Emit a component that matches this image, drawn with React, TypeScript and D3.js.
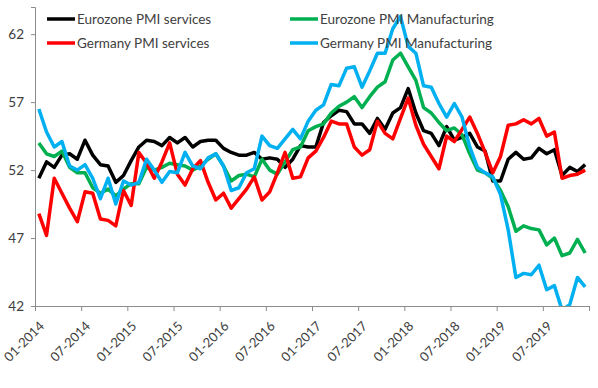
import { useEffect, useRef } from "react";
import * as d3 from "d3";

// monthly readings, Jan 2014 .. Dec 2019
const months = d3.timeMonth.range(new Date(2014, 0, 1), new Date(2020, 0, 1));

const ezServices = [
  51.4, 52.6, 52.2, 53.1, 53.2, 52.8, 54.2, 53.1, 52.4, 52.3, 51.1, 51.6,
  52.7, 53.7, 54.2, 54.1, 53.8, 54.4, 54.0, 54.4, 53.7, 54.1, 54.2, 54.2,
  53.6, 53.3, 53.1, 53.1, 53.3, 52.8, 52.9, 52.8, 52.2, 52.8, 53.8, 53.7,
  53.7, 55.5, 56.0, 56.4, 56.3, 55.4, 55.4, 54.7, 55.8, 55.0, 56.2, 56.6,
  58.0, 56.2, 54.9, 54.7, 53.8, 55.2, 54.2, 54.4, 54.7, 53.7, 53.4, 51.2,
  51.2, 52.8, 53.3, 52.8, 52.9, 53.6, 53.2, 53.5, 51.6, 52.2, 51.9, 52.4,
];

const ezManufacturing = [
  54.0, 53.2, 53.0, 53.4, 52.2, 51.8, 51.8, 50.7, 50.3, 50.6, 50.1, 50.6,
  51.0, 51.0, 52.2, 52.0, 52.2, 52.5, 52.4, 52.3, 52.0, 52.3, 52.8, 53.2,
  52.3, 51.2, 51.6, 51.7, 51.5, 52.8, 52.0, 51.7, 52.6, 53.5, 53.7, 54.9,
  55.2, 55.4, 56.2, 56.7, 57.0, 57.4, 56.6, 57.4, 58.1, 58.5, 60.1, 60.6,
  59.6, 58.6, 56.6, 56.2, 55.5, 54.9, 55.1, 54.6, 53.2, 52.0, 51.8, 51.4,
  50.5, 49.3, 47.5, 47.9, 47.7, 47.6, 46.5, 47.0, 45.7, 45.9, 46.9, 45.9,
];

const deServices = [
  48.8, 47.2, 51.4, 50.3, 49.2, 48.2, 50.4, 50.3, 48.4, 48.3, 47.9, 50.5,
  49.4, 53.3, 52.5, 51.4, 52.6, 54.0, 51.7, 50.9, 52.1, 52.7, 51.1, 49.8,
  50.3, 49.2, 49.9, 50.6, 51.5, 49.8, 50.4, 51.8, 53.3, 51.4, 51.5, 52.9,
  53.4, 54.4, 55.6, 55.4, 55.4, 53.7, 53.1, 53.5, 55.6, 54.7, 54.3, 55.8,
  57.3, 55.3, 53.9, 53.0, 52.1, 54.5, 54.1, 55.0, 55.9, 54.7, 53.3, 51.8,
  53.0, 55.3, 55.4, 55.7, 55.4, 55.8, 54.5, 54.8, 51.4, 51.6, 51.7, 52.0,
];

const deManufacturing = [
  56.5, 54.8, 53.7, 54.1, 52.3, 52.0, 52.4, 51.4, 49.9, 51.4, 49.5, 51.2,
  50.9, 51.1, 52.8, 52.0, 51.1, 51.9, 51.8, 53.3, 52.3, 52.1, 52.9, 53.2,
  52.3, 50.5, 50.7, 51.8, 52.1, 54.5, 53.8, 53.6, 54.3, 55.0, 54.3, 55.6,
  56.4, 56.8, 58.3, 58.2, 59.5, 59.6, 58.1, 59.3, 60.6, 60.6, 62.4, 63.3,
  61.1, 60.6, 58.2, 58.1, 56.9, 55.9, 56.9, 55.9, 53.7, 52.2, 51.8, 51.5,
  50.2, 47.6, 44.1, 44.4, 44.3, 45.0, 43.2, 43.5, 41.7, 42.1, 44.1, 43.4,
];

const yTicks = [42, 47, 52, 57, 62];
const xTickLabels = [
  "01-2014", "07-2014", "01-2015", "07-2015", "01-2016", "07-2016",
  "01-2017", "07-2017", "01-2018", "07-2018", "01-2019", "07-2019",
];

const series = [
  { name: "Eurozone PMI services", values: ezServices, color: "#000000" },
  { name: "Eurozone PMI Manufacturing", values: ezManufacturing, color: "#00b050" },
  { name: "Germany PMI services", values: deServices, color: "#ff0000" },
  { name: "Germany PMI Manufacturing", values: deManufacturing, color: "#00b0f0" },
];

const WIDTH = 598;
const HEIGHT = 388;
const MARGIN = { top: 7, right: 9, bottom: 82, left: 35 };
const FONT = "Lato, 'Open Sans', sans-serif";
const TEXT = "#404040";
const AXIS = "#8c8c8c";

export default function App() {
  const svgRef = useRef<SVGSVGElement | null>(null);

  useEffect(() => {
    if (!svgRef.current) return;
    const svg = d3.select(svgRef.current);
    svg.selectAll("*").remove();

    const x = d3
      .scaleBand<number>()
      .domain(months.map((_, i) => i))
      .range([MARGIN.left, WIDTH - MARGIN.right])
      .padding(0);

    const y = d3
      .scaleLinear()
      .domain([42, 64])
      .range([HEIGHT - MARGIN.bottom, MARGIN.top]);

    svg
      .append("defs")
      .append("clipPath")
      .attr("id", "plot-clip")
      .append("rect")
      .attr("x", MARGIN.left)
      .attr("y", MARGIN.top)
      .attr("width", WIDTH - MARGIN.left - MARGIN.right)
      .attr("height", HEIGHT - MARGIN.top - MARGIN.bottom);

    // Y axis
    const yAxis = svg
      .append("g")
      .attr("transform", `translate(${MARGIN.left},0)`)
      .call(d3.axisLeft(y).tickValues(yTicks).tickSize(4).tickPadding(7));
    yAxis.select(".domain").attr("stroke", AXIS).attr("stroke-width", 1);
    yAxis.selectAll(".tick line").attr("stroke", AXIS);
    yAxis
      .selectAll("text")
      .attr("fill", TEXT)
      .style("font-family", FONT)
      .style("font-size", "13.5px");

    // X axis: ticks on band edges every 6 months, plus the closing edge
    const tickIdx = d3.range(0, months.length + 1, 6);
    const edge = (i: number) =>
      i < months.length ? (x(i) as number) : WIDTH - MARGIN.right;
    const xAxis = svg.append("g");
    xAxis
      .append("line")
      .attr("x1", MARGIN.left)
      .attr("x2", WIDTH - MARGIN.right)
      .attr("y1", y(42) + 0.5)
      .attr("y2", y(42) + 0.5)
      .attr("stroke", AXIS);
    xAxis
      .selectAll(".xtick")
      .data(tickIdx)
      .join("line")
      .attr("class", "xtick")
      .attr("x1", (d) => edge(d) + 0.5)
      .attr("x2", (d) => edge(d) + 0.5)
      .attr("y1", y(42))
      .attr("y2", y(42) + 5)
      .attr("stroke", AXIS);
    xAxis
      .selectAll(".xlabel")
      .data(xTickLabels)
      .join("text")
      .attr("class", "xlabel")
      .attr("transform", (_, k) => `translate(${edge(k * 6) + 10},${y(42) + 21}) rotate(-45)`)
      .attr("text-anchor", "end")
      .attr("fill", TEXT)
      .style("font-family", FONT)
      .style("font-size", "13px")
      .text((d) => d);

    // Lines
    const line = d3
      .line<number>()
      .x((_, i) => (x(i) as number) + x.bandwidth() / 2)
      .y((d) => y(d));

    svg
      .append("g")
      .attr("clip-path", "url(#plot-clip)")
      .selectAll("path")
      .data(series)
      .join("path")
      .attr("d", (s) => line(s.values))
      .attr("fill", "none")
      .attr("stroke", (s) => s.color)
      .attr("stroke-width", 3.5)
      .attr("stroke-linejoin", "round");

    // Legend (two columns, row-wise)
    const legendPos = [
      { x: 47, y: 19 },
      { x: 290, y: 19 },
      { x: 47, y: 43 },
      { x: 290, y: 43 },
    ];
    const legend = svg
      .append("g")
      .selectAll("g")
      .data(series)
      .join("g")
      .attr("transform", (_, i) => `translate(${legendPos[i].x},${legendPos[i].y})`);
    legend
      .append("line")
      .attr("x1", 0)
      .attr("x2", 28)
      .attr("stroke", (s) => s.color)
      .attr("stroke-width", 3.5);
    legend
      .append("text")
      .attr("x", 30)
      .attr("dy", "0.35em")
      .attr("fill", TEXT)
      .style("font-family", FONT)
      .style("font-size", "13.5px")
      .text((s) => s.name);
  }, []);

  return (
    <div style={{ position: "absolute", left: 0, top: 0 }}>
      <svg ref={svgRef} width={WIDTH} height={HEIGHT} style={{ display: "block" }} />
    </div>
  );
}
